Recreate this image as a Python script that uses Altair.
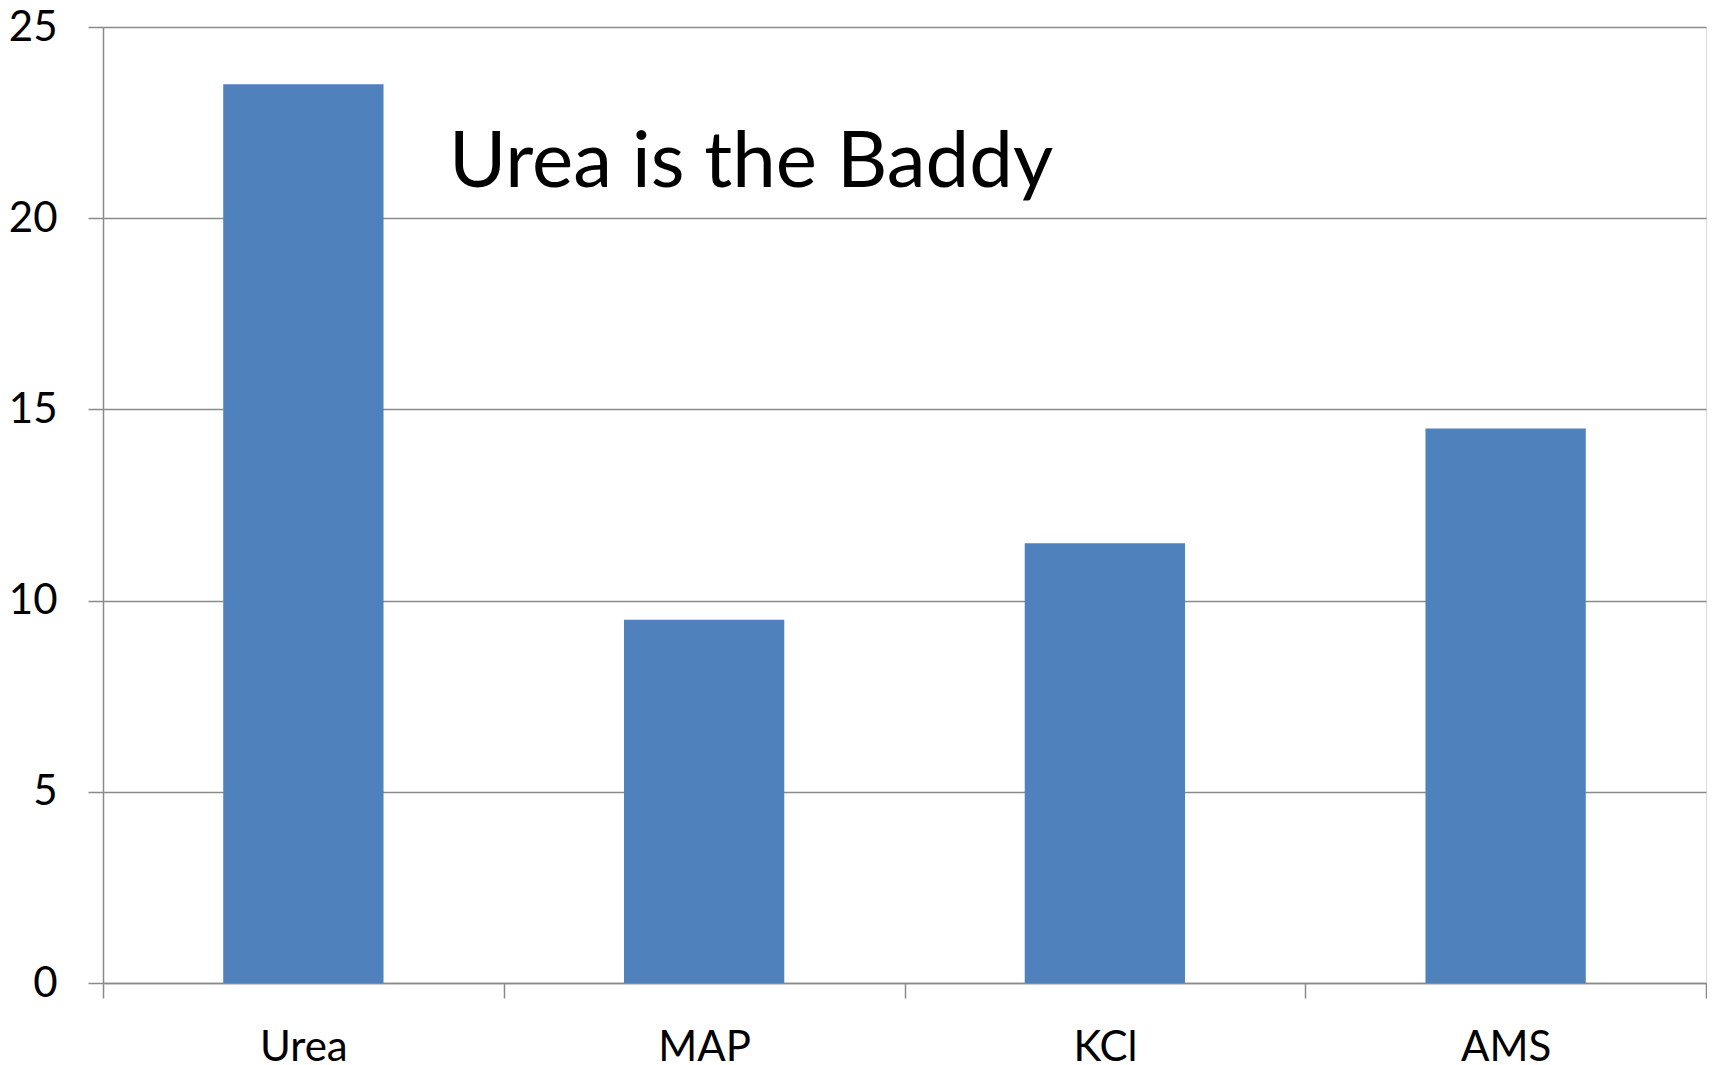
import altair as alt
import pandas as pd

categories = ["Urea", "MAP", "KCl", "AMS"]
values = [23.5, 9.5, 11.5, 14.5]
y_ticks = [0, 5, 10, 15, 20, 25]
note_text = ["Urea is the Baddy"]
note_y = [20.82]

df = pd.DataFrame({"cat": categories, "val": values})
note = pd.DataFrame({"t": note_text, "y": note_y})

FONT = "Lato"
GRAY = "#8a8a8a"

yscale = alt.Scale(domain=[0, 25], nice=False, zero=True)

bars = alt.Chart(df).mark_bar(color="#4F81BD", width=alt.RelativeBandSize(0.4)).encode(
    x=alt.X("cat:N", sort=categories,
            scale=alt.Scale(paddingInner=0, paddingOuter=0),
            axis=alt.Axis(title=None, labelAngle=0, labelFont=FONT, labelFontSize=42,
                          labelColor="#000000", tickBand="extent", tickSize=15,
                          tickColor=GRAY, tickWidth=1.5, domainColor=GRAY, domainWidth=1.5,
                          labelPadding=29, grid=False)),
    y=alt.Y("val:Q", scale=yscale,
            axis=alt.Axis(title=None, values=y_ticks, labelFont=FONT, labelFontSize=42,
                          labelColor="#000000", tickSize=15, tickColor=GRAY, tickWidth=1.5,
                          domainColor=GRAY, domainWidth=1.5, labelPadding=31,
                          grid=True, gridColor=GRAY, gridWidth=1.5)),
)

label = alt.Chart(note).mark_text(
    font=FONT, fontSize=78, align="left", baseline="alphabetic", color="#000000"
).encode(
    x=alt.value(346),
    y=alt.Y("y:Q", scale=yscale),
    text="t:N",
)

chart = alt.layer(bars, label).properties(
    width=1603, height=956,
    autosize=alt.AutoSizeParams(type="none"),
    padding={"left": 95, "top": 19, "right": 1, "bottom": 82},
).configure_view(stroke=None).configure(background="white")

chart.save("out.html", embed_options={"renderer": "svg", "actions": False})
